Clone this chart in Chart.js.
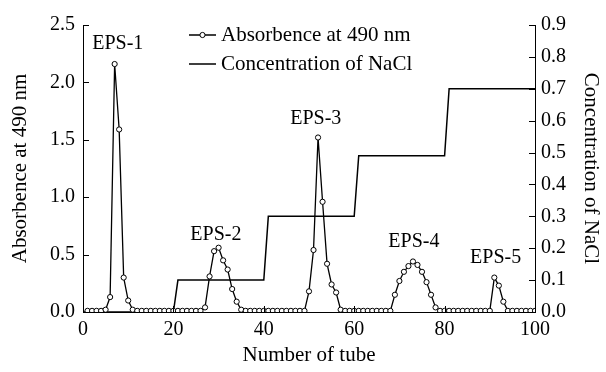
<!DOCTYPE html>
<html>
<head>
<meta charset="utf-8">
<script src="https://cdn.jsdelivr.net/npm/chart.js@4.4.0/dist/chart.umd.min.js"></script>
<style>
  html, body { margin: 0; padding: 0; background: #fff; }
  #wrap { width: 606px; height: 372px; }
</style>
</head>
<body>
<div id="wrap"><canvas id="elutionChart"></canvas></div>
<script>
// tube numbers and absorbance
const TUBES = [
   1,  2,  3,  4,  5,  6,  7,  8,  9, 10, 11, 12, 13, 14, 15, 16, 17, 18, 19, 20,
  21, 22, 23, 24, 25, 26, 27, 28, 29, 30, 31, 32, 33, 34, 35, 36, 37, 38, 39, 40,
  41, 42, 43, 44, 45, 46, 47, 48, 49, 50, 51, 52, 53, 54, 55, 56, 57, 58, 59, 60,
  61, 62, 63, 64, 65, 66, 67, 68, 69, 70, 71, 72, 73, 74, 75, 76, 77, 78, 79, 80,
  81, 82, 83, 84, 85, 86, 87, 88, 89, 90, 91, 92, 93, 94, 95, 96, 97, 98, 99, 100
];
const ABSORBANCE = [
  0.01, 0.01, 0.01, 0.01, 0.02, 0.13, 2.16, 1.59, 0.30, 0.10,
  0.02, 0.01, 0.01, 0.01, 0.01, 0.01, 0.01, 0.01, 0.01, 0.01,
  0.01, 0.01, 0.01, 0.01, 0.01, 0.01, 0.04, 0.31, 0.53, 0.56,
  0.45, 0.37, 0.20, 0.09, 0.02, 0.01, 0.01, 0.01, 0.01, 0.01,
  0.01, 0.01, 0.01, 0.01, 0.01, 0.01, 0.01, 0.01, 0.01, 0.18,
  0.54, 1.52, 0.96, 0.42, 0.24, 0.17, 0.02, 0.01, 0.01, 0.01,
  0.01, 0.01, 0.01, 0.01, 0.01, 0.01, 0.01, 0.01, 0.15, 0.27,
  0.35, 0.40, 0.44, 0.41, 0.35, 0.26, 0.15, 0.04, 0.01, 0.01,
  0.01, 0.01, 0.01, 0.01, 0.01, 0.01, 0.01, 0.01, 0.01, 0.01,
  0.30, 0.23, 0.09, 0.01, 0.01, 0.01, 0.01, 0.01, 0.01, 0.01
];

// NaCl step gradient
const NACL_TUBE = [0, 20, 21, 40, 41, 60, 61, 80, 81, 100];
const NACL_CONC = [0, 0, 0.1, 0.1, 0.3, 0.3, 0.49, 0.49, 0.7, 0.7];

// peak names and where they sit (tube, absorbance)
const PEAK_NAMES = ['EPS-1', 'EPS-2', 'EPS-3', 'EPS-4', 'EPS-5'];
const PEAK_TUBE = [7.7, 29.4, 51.5, 73.2, 91.3];
const PEAK_LEVEL = [2.34, 0.67, 1.68, 0.61, 0.47];

const X_TICKS = [0, 20, 40, 60, 80, 100];
const Y_TICKS = [0, 0.5, 1.0, 1.5, 2.0, 2.5];
const Y1_TICKS = [0, 0.1, 0.2, 0.3, 0.4, 0.5, 0.6, 0.7, 0.8, 0.9];

const FONT = "'Liberation Serif', 'Times New Roman', serif";
const INK = '#000';

// inward tick marks, like the original plot
const inwardTicks = {
  id: 'inwardTicks',
  afterDraw(chart) {
    const ctx = chart.ctx;
    const a = chart.chartArea;
    const len = 6;
    ctx.save();
    ctx.strokeStyle = INK;
    ctx.lineWidth = 1;
    ctx.beginPath();
    X_TICKS.forEach(v => {
      const x = Math.round(chart.scales.x.getPixelForValue(v)) + 0.5;
      ctx.moveTo(x, a.bottom);
      ctx.lineTo(x, a.bottom - len);
    });
    Y_TICKS.forEach(v => {
      const y = Math.round(chart.scales.y.getPixelForValue(v)) + 0.5;
      ctx.moveTo(a.left, y);
      ctx.lineTo(a.left + len, y);
    });
    Y1_TICKS.forEach(v => {
      const y = Math.round(chart.scales.y1.getPixelForValue(v)) + 0.5;
      ctx.moveTo(a.right, y);
      ctx.lineTo(a.right - len, y);
    });
    ctx.stroke();
    ctx.restore();
  }
};

// peak labels and the two-row legend in the plot
const annotations = {
  id: 'annotations',
  afterDraw(chart) {
    const ctx = chart.ctx;
    const xs = chart.scales.x, ys = chart.scales.y;
    ctx.save();
    ctx.fillStyle = INK;
    ctx.font = '20px ' + FONT;
    ctx.textAlign = 'center';
    ctx.textBaseline = 'middle';
    PEAK_NAMES.forEach((name, i) => {
      ctx.fillText(name, xs.getPixelForValue(PEAK_TUBE[i]), ys.getPixelForValue(PEAK_LEVEL[i]));
    });

    // legend
    ctx.strokeStyle = INK;
    ctx.lineWidth = 1.3;
    ctx.beginPath();
    ctx.moveTo(189, 35); ctx.lineTo(216, 35);
    ctx.moveTo(189, 64); ctx.lineTo(216, 64);
    ctx.stroke();
    ctx.beginPath();
    ctx.fillStyle = '#fff';
    ctx.lineWidth = 1;
    ctx.arc(202.5, 35, 2.6, 0, Math.PI * 2);
    ctx.fill();
    ctx.stroke();
    ctx.fillStyle = INK;
    ctx.textAlign = 'left';
    ctx.font = '21px ' + FONT;
    ctx.fillText('Absorbence at 490 nm', 221, 35);
    ctx.fillText('Concentration of NaCl', 221, 64);
    ctx.restore();
  }
};

function fixedWidth(w) {
  return function(scale) { scale.width = w; };
}

window.onload = function() {
  const ctx = document.getElementById('elutionChart');

  new Chart(ctx, {
    type: 'line',
    data: {
      datasets: [
        {
          label: 'Absorbence at 490 nm',
          data: TUBES.map((t, i) => ({ x: t, y: ABSORBANCE[i] })),
          yAxisID: 'y',
          borderColor: INK,
          borderWidth: 1.3,
          pointRadius: 2.6,
          pointBorderWidth: 1,
          pointBackgroundColor: '#fff',
          pointBorderColor: INK,
          tension: 0,
          fill: false,
          order: 1
        },
        {
          label: 'Concentration of NaCl',
          data: NACL_TUBE.map((t, i) => ({ x: t, y: NACL_CONC[i] })),
          yAxisID: 'y1',
          borderColor: INK,
          borderWidth: 1.5,
          pointRadius: 0,
          tension: 0,
          fill: false,
          order: 2
        }
      ]
    },
    options: {
      responsive: true,
      maintainAspectRatio: false,
      animation: false,
      layout: { padding: { top: 25, left: 0, right: 0, bottom: 0 } },
      plugins: {
        legend: { display: false },
        tooltip: { enabled: false }
      },
      scales: {
        x: {
          type: 'linear',
          min: 0,
          max: 100,
          afterFit: scale => { scale.height = 60; },
          afterBuildTicks: scale => { scale.ticks = X_TICKS.map(v => ({ value: v })); },
          ticks: {
            color: INK,
            padding: 6,
            font: { family: FONT, size: 20, lineHeight: 1.2 }
          },
          grid: { display: false, drawTicks: false },
          border: { display: true, color: INK, width: 1 },
          title: {
            display: true,
            text: 'Number of tube',
            color: INK,
            font: { family: FONT, size: 21, lineHeight: 1.2 },
            padding: { top: 0, bottom: 4 }
          }
        },
        y: {
          position: 'left',
          min: 0,
          max: 2.5,
          afterFit: fixedWidth(83),
          afterBuildTicks: scale => { scale.ticks = Y_TICKS.map(v => ({ value: v })); },
          ticks: {
            color: INK,
            padding: 8,
            font: { family: FONT, size: 20, lineHeight: 1.2 },
            callback: v => v.toFixed(1)
          },
          grid: { display: false, drawTicks: false },
          border: { display: true, color: INK, width: 1 },
          title: {
            display: true,
            text: 'Absorbence at 490 nm',
            color: INK,
            font: { family: FONT, size: 21, lineHeight: 1.2 },
            padding: { top: 8, bottom: 0 }
          }
        },
        y1: {
          position: 'right',
          min: 0,
          max: 0.9,
          afterFit: fixedWidth(71),
          afterBuildTicks: scale => { scale.ticks = Y1_TICKS.map(v => ({ value: v })); },
          ticks: {
            color: INK,
            padding: 6,
            font: { family: FONT, size: 20, lineHeight: 1.2 },
            callback: v => v.toFixed(1)
          },
          grid: { display: false, drawTicks: false },
          border: { display: true, color: INK, width: 1 },
          title: {
            display: true,
            text: 'Concentration of NaCl',
            color: INK,
            font: { family: FONT, size: 21, lineHeight: 1.2 },
            padding: { top: 3, bottom: 0 }
          }
        }
      }
    },
    plugins: [inwardTicks, annotations]
  });
};
</script>
</body>
</html>
